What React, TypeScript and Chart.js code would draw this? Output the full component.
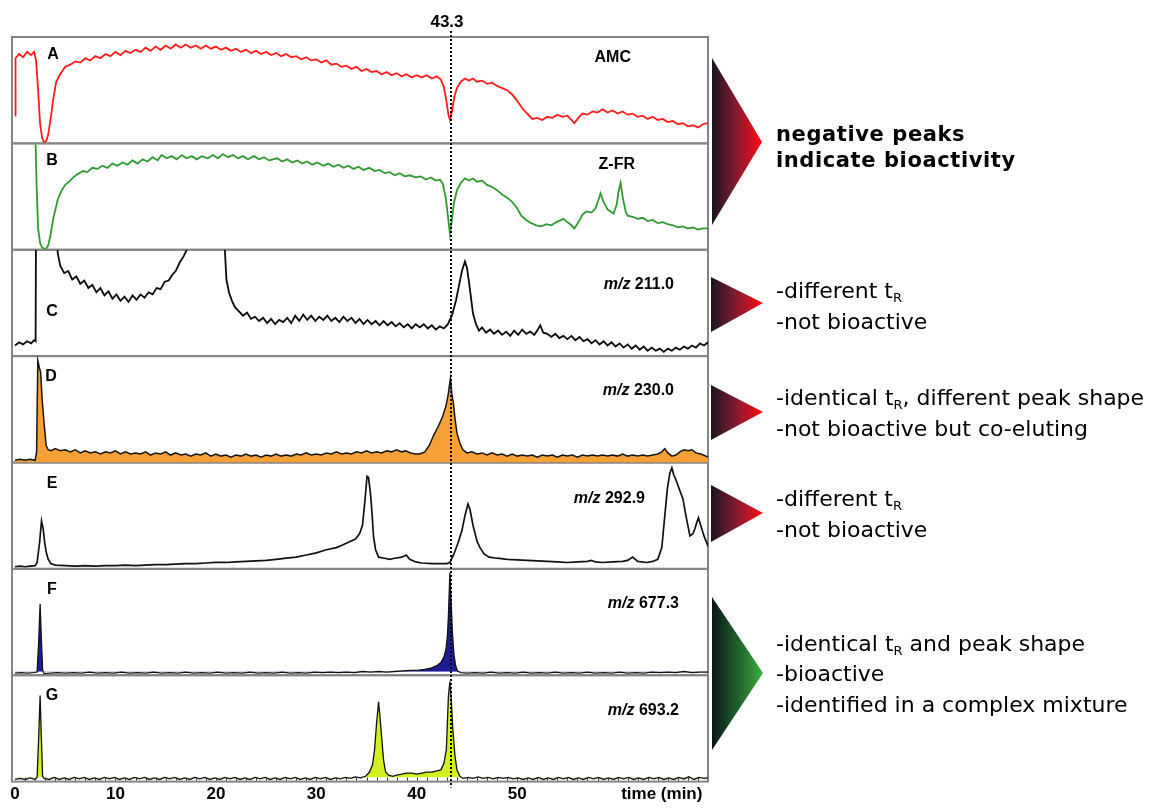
import React, { useEffect, useRef } from 'react';
import { Chart, registerables } from 'chart.js';

Chart.register(...registerables);

// ---------------- data ----------------
const timeTicks = [0, 10, 20, 30, 40, 50, 64.4];
const timeTickLabels = ['0', '10', '20', '30', '40', '50', 'time (min)'];
const markerTime = 43.3;
const markerText = '43.3';

const panelLetters = ['A', 'B', 'C', 'D', 'E', 'F', 'G'];
const traceNames = ['AMC', 'Z-FR', '211.0', '230.0', '292.9', '677.3', '693.2'];
const traceIsMz = [false, false, true, true, true, true, true];

// [time (min), relative signal (0-100 of panel)]
const amcTrace: [number, number][] = [
  [0, 26], [0.05, 80], [0.4, 84], [0.8, 81], [1.2, 86], [1.6, 83], [1.9, 86], [2.1, 78], [2.3, 50], [2.5, 18],
  [2.7, 5], [2.9, 1], [3.1, 2], [3.3, 8], [3.5, 20], [3.8, 41], [4.1, 58], [4.5, 65], [5.0, 72], [5.5, 74],
  [6.0, 77], [6.5, 76], [7.0, 80], [7.5, 78], [8.0, 82], [8.5, 80], [9.0, 84], [9.5, 82], [10.0, 86], [10.5, 83],
  [11.0, 87], [11.5, 85], [12.0, 88], [12.5, 86], [13.0, 90], [13.5, 87], [14.0, 91], [14.5, 88], [15.0, 92], [15.5, 89],
  [16.0, 93], [16.5, 90], [17.0, 93], [17.5, 90], [18.0, 92], [18.5, 89], [19.0, 92], [19.5, 89], [20.0, 91], [20.5, 88],
  [21.0, 90], [21.5, 87], [22.0, 89], [22.5, 86], [23.0, 88], [23.5, 85], [24.0, 87], [24.5, 84], [25.0, 86], [25.5, 83],
  [26.0, 85], [26.5, 82], [27.0, 84], [27.5, 81], [28.0, 82], [28.5, 79], [29.0, 81], [29.5, 78], [30.0, 79], [30.5, 76],
  [31.0, 78], [31.5, 74], [32.0, 75], [32.5, 72], [33.0, 73], [33.5, 70], [34.0, 72], [34.5, 68], [35.0, 70], [35.5, 67],
  [36.0, 68], [36.5, 65], [37.0, 67], [37.5, 64], [38.0, 66], [38.5, 63], [39.0, 65], [39.5, 62], [40.0, 64], [40.5, 62],
  [41.0, 64], [41.5, 61], [42.0, 63], [42.4, 60], [42.7, 53], [42.95, 40], [43.15, 27], [43.3, 22], [43.5, 30], [43.75, 44],
  [44.0, 52], [44.4, 58], [44.8, 61], [45.2, 59], [45.6, 61], [46.0, 58], [46.5, 59], [47.0, 56], [47.5, 57], [48.0, 54],
  [48.5, 52], [49.0, 50], [49.5, 46], [50.0, 40], [50.5, 33], [51.0, 28], [51.5, 23], [52.0, 24], [52.5, 22], [53.0, 25],
  [53.5, 24], [54.0, 27], [54.5, 25], [55.0, 26], [55.4, 22], [55.7, 19], [56.1, 24], [56.5, 28], [57.0, 27], [57.5, 30],
  [58.0, 29], [58.5, 32], [59.0, 29], [59.5, 31], [60.0, 28], [60.5, 30], [61.0, 27], [61.5, 28], [62.0, 25], [62.5, 26],
  [63.0, 23], [63.5, 25], [64.0, 22], [64.5, 23], [65.0, 20], [65.5, 21], [66.0, 18], [66.5, 19], [67.0, 16], [67.5, 17],
  [68.0, 15], [68.5, 18], [69.0, 19],
];

const zfrTrace: [number, number][] = [
  [2.05, 99], [2.15, 60], [2.3, 20], [2.5, 6], [2.7, 2], [2.9, 1], [3.1, 1], [3.3, 4], [3.5, 12], [3.8, 29],
  [4.25, 47], [4.6, 55], [5.0, 61], [5.4, 64], [5.8, 68], [6.2, 71], [6.8, 74], [7.2, 73], [7.7, 77], [8.2, 76],
  [8.7, 79], [9.2, 77], [9.7, 81], [10.2, 79], [10.7, 82], [11.2, 80], [11.7, 84], [12.2, 81], [12.7, 85], [13.2, 83],
  [13.7, 87], [14.2, 84], [14.6, 89], [15.1, 86], [15.6, 88], [16.1, 85], [16.6, 89], [17.1, 86], [17.6, 88], [18.1, 85],
  [18.6, 88], [19.2, 86], [19.7, 89], [20.2, 86], [20.7, 90], [21.2, 87], [21.7, 89], [22.2, 86], [22.7, 88], [23.2, 85],
  [23.8, 88], [24.3, 85], [24.8, 87], [25.3, 84], [26.1, 86], [26.6, 83], [27.1, 85], [27.6, 82], [28.1, 84], [28.6, 81],
  [29.1, 83], [29.6, 80], [30.1, 82], [30.7, 79], [31.2, 81], [31.7, 78], [32.2, 80], [32.7, 77], [33.2, 79], [33.7, 76],
  [34.2, 78], [34.7, 75], [35.3, 77], [35.8, 74], [36.3, 75], [36.8, 72], [37.3, 73], [37.8, 70], [38.3, 72], [38.8, 69],
  [39.3, 70], [39.9, 68], [40.4, 69], [40.9, 66], [41.4, 68], [41.9, 65], [42.3, 66], [42.6, 62], [42.9, 48], [43.1, 32],
  [43.3, 15], [43.5, 28], [43.7, 44], [44.0, 56], [44.4, 63], [44.8, 67], [45.2, 65], [45.6, 67], [46.0, 64], [46.5, 65],
  [47.0, 61], [47.5, 59], [48.0, 56], [48.5, 52], [49.0, 49], [49.5, 45], [50.0, 39], [50.4, 32], [50.9, 28], [51.4, 25],
  [51.9, 23], [52.4, 22], [52.9, 24], [53.4, 23], [53.9, 26], [54.6, 29], [55.0, 26], [55.4, 23], [55.7, 20], [56.1, 26],
  [56.5, 33], [56.9, 36], [57.4, 35], [57.8, 39], [58.1, 47], [58.3, 53], [58.6, 45], [59.0, 38], [59.3, 36], [59.6, 34],
  [59.9, 42], [60.1, 55], [60.3, 63], [60.5, 50], [60.8, 36], [61.0, 32], [61.5, 31], [62.0, 29], [62.5, 30], [63.0, 27],
  [63.5, 28], [64.0, 25], [64.5, 26], [65.0, 24], [65.5, 23], [66.0, 21], [66.5, 22], [67.0, 20], [67.5, 21], [68.0, 19],
  [68.5, 20], [69.0, 20],
];

const mz211Trace: [number, number][] = [
  [0, 10], [0.4, 13], [0.8, 11], [1.2, 14], [1.6, 12], [1.9, 15], [2.05, 14], [2.1, 150], [4.1, 150], [4.25, 97],
  [4.5, 85], [4.9, 78], [5.3, 80], [5.7, 72], [6.1, 75], [6.5, 68], [6.9, 71], [7.3, 64], [7.7, 67], [8.1, 60],
  [8.5, 64], [8.9, 57], [9.3, 61], [9.7, 54], [10.1, 58], [10.5, 52], [10.9, 56], [11.3, 51], [11.7, 57], [12.1, 53],
  [12.5, 58], [12.9, 55], [13.3, 60], [13.7, 58], [14.1, 64], [14.5, 63], [14.9, 70], [15.3, 71], [15.7, 77], [16.0, 80],
  [16.4, 88], [16.8, 94], [17.1, 100], [17.4, 150], [20.7, 150], [20.9, 99], [21.05, 72], [21.3, 60], [21.6, 52], [21.9, 46],
  [22.3, 42], [22.7, 38], [23.1, 41], [23.5, 35], [23.9, 37], [24.3, 33], [24.7, 36], [25.1, 31], [25.5, 35], [25.9, 30],
  [26.3, 34], [26.7, 32], [27.1, 36], [27.5, 31], [27.9, 38], [28.3, 33], [28.7, 39], [29.1, 34], [29.5, 38], [29.9, 33],
  [30.3, 37], [30.7, 34], [31.1, 38], [31.5, 33], [31.9, 36], [32.3, 32], [32.7, 37], [33.1, 33], [33.5, 36], [33.9, 31],
  [34.3, 35], [34.7, 30], [35.1, 34], [35.5, 30], [35.9, 33], [36.3, 29], [36.7, 33], [37.1, 29], [37.5, 32], [37.9, 28],
  [38.3, 31], [38.7, 27], [39.1, 30], [39.5, 26], [39.9, 30], [40.3, 27], [40.7, 30], [41.1, 26], [41.5, 29], [41.9, 25],
  [42.3, 28], [42.7, 26], [43.1, 30], [43.5, 38], [43.9, 52], [44.2, 66], [44.5, 80], [44.8, 89], [45.0, 83], [45.2, 70],
  [45.4, 55], [45.6, 40], [45.9, 30], [46.2, 24], [46.5, 27], [46.9, 22], [47.3, 25], [47.7, 21], [48.1, 24], [48.5, 20],
  [48.9, 23], [49.3, 19], [49.7, 24], [50.1, 20], [50.5, 25], [50.9, 21], [51.3, 23], [51.7, 20], [52.0, 24], [52.3, 29],
  [52.6, 22], [53.0, 21], [53.4, 18], [53.8, 21], [54.2, 17], [54.6, 19], [55.0, 16], [55.4, 19], [55.8, 15], [56.2, 18],
  [56.6, 14], [57.0, 16], [57.4, 12], [57.8, 15], [58.2, 11], [58.6, 14], [59.0, 10], [59.4, 13], [59.8, 9], [60.2, 12],
  [60.6, 8], [61.0, 11], [61.4, 7], [61.8, 10], [62.2, 6], [62.6, 9], [63.0, 5], [63.4, 8], [63.8, 5], [64.2, 7],
  [64.6, 4], [65.0, 7], [65.4, 5], [65.8, 8], [66.2, 6], [66.6, 9], [67.0, 7], [67.4, 10], [67.8, 8], [68.2, 12],
  [68.6, 10], [69.0, 13],
];

const mz230Trace: [number, number][] = [
  [0, 2], [0.5, 3], [1.0, 2], [1.5, 3], [2.0, 2], [2.15, 10], [2.27, 96], [2.4, 90], [2.55, 85], [2.7, 60],
  [2.87, 40], [3.1, 16], [3.3, 12], [3.6, 11], [4.0, 13], [4.5, 11], [5.0, 12], [5.5, 10], [6.0, 12], [6.5, 9],
  [7.0, 11], [7.5, 9], [8.0, 10], [8.5, 8], [9.0, 10], [9.5, 9], [10.0, 11], [10.5, 8], [11.0, 10], [11.5, 8],
  [12.0, 9], [12.5, 8], [13.0, 10], [13.5, 7], [14.0, 9], [14.5, 8], [15.0, 10], [15.5, 7], [16.0, 9], [16.5, 7],
  [17.0, 8], [17.5, 6], [18.0, 8], [18.5, 7], [19.0, 9], [19.5, 6], [20.0, 8], [20.5, 6], [21.0, 7], [21.5, 5],
  [22.0, 7], [22.5, 6], [23.0, 8], [23.5, 6], [24.0, 7], [24.5, 5], [25.0, 7], [25.5, 6], [26.0, 8], [26.5, 6],
  [27.0, 7], [27.5, 6], [28.0, 8], [28.5, 7], [29.0, 9], [29.5, 7], [30.0, 8], [30.5, 7], [31.0, 9], [31.5, 8],
  [32.0, 10], [32.5, 8], [33.0, 9], [33.5, 8], [34.0, 10], [34.5, 9], [35.0, 11], [35.5, 9], [36.0, 10], [36.5, 9],
  [37.0, 11], [37.5, 10], [38.0, 12], [38.5, 10], [38.9, 11], [39.4, 9], [39.9, 8], [40.3, 8], [40.8, 10], [41.25, 16],
  [41.7, 26], [42.2, 35], [42.6, 44], [42.9, 53], [43.1, 62], [43.35, 79], [43.5, 64], [43.65, 56], [43.8, 42], [44.0, 28],
  [44.3, 18], [44.6, 12], [45.0, 9], [45.5, 10], [46.0, 8], [46.5, 9], [47.0, 7], [47.5, 9], [48.0, 7], [48.5, 8],
  [49.0, 6], [49.5, 8], [50.0, 6], [50.5, 7], [51.0, 6], [51.5, 7], [52.0, 5], [52.5, 7], [53.0, 6], [53.5, 7],
  [54.0, 5], [54.5, 7], [55.0, 6], [55.5, 7], [56.0, 5], [56.5, 7], [57.0, 6], [57.5, 7], [58.0, 6], [58.5, 7],
  [59.0, 6], [59.5, 7], [60.0, 6], [60.5, 8], [61.0, 6], [61.5, 7], [62.0, 6], [62.5, 7], [63.0, 6], [63.5, 7],
  [64.0, 8], [64.4, 10], [64.7, 13], [65.0, 9], [65.4, 6], [65.8, 7], [66.2, 10], [66.6, 12], [67.0, 11], [67.4, 12],
  [67.8, 9], [68.3, 8], [68.8, 6], [69.0, 5],
];

const mz292Trace: [number, number][] = [
  [0, 2], [0.5, 2.5], [1.0, 2], [1.5, 2.5], [2.0, 3], [2.2, 6], [2.45, 25], [2.64, 45], [2.8, 38], [2.95, 25],
  [3.1, 16], [3.3, 9], [3.56, 5], [4.0, 3.5], [5.0, 3], [6.0, 2.5], [7.0, 3], [8.0, 2.5], [9.0, 3], [10.0, 3],
  [11.0, 3.5], [12.0, 3], [13.0, 3.5], [14.0, 4], [15.0, 4], [16.0, 4.5], [17.0, 5], [18.0, 5], [19.0, 5.5], [20.0, 6],
  [21.0, 6], [22.0, 6.5], [23.0, 7], [24.0, 7.5], [25.0, 8], [26.0, 9], [27.0, 10], [28.0, 11], [29.0, 13], [30.0, 15],
  [31.0, 18], [32.0, 20], [32.5, 22], [33.2, 25], [33.9, 28], [34.3, 33], [34.6, 41], [34.85, 65], [35.05, 87], [35.2, 86],
  [35.4, 70], [35.55, 52], [35.7, 30], [35.9, 18], [36.2, 11], [36.8, 10], [37.3, 9], [37.8, 10], [38.5, 11], [38.95, 13],
  [39.3, 9], [39.9, 6.5], [40.5, 5.5], [41.5, 5], [42.2, 5], [43.0, 5], [43.3, 6], [43.7, 14], [44.1, 24], [44.5, 36],
  [44.8, 50], [45.1, 61], [45.3, 56], [45.6, 41], [46.0, 26], [46.3, 20], [46.7, 14], [47.2, 11], [48.0, 10], [49.0, 9],
  [50.0, 8.5], [51.0, 8], [52.0, 7.5], [53.0, 7], [54.0, 6.5], [55.0, 6], [56.0, 6.5], [57.0, 7], [57.4, 8], [57.8, 6.5],
  [58.5, 6], [59.5, 6.5], [60.5, 7], [61.0, 8], [61.5, 11], [62.0, 7], [62.9, 6], [63.5, 7], [64.0, 9], [64.4, 20],
  [64.7, 50], [64.95, 75], [65.2, 90], [65.4, 95], [65.6, 88], [65.8, 84], [66.1, 76], [66.5, 66], [66.8, 50], [67.2, 31],
  [67.5, 33], [67.7, 38], [67.9, 44], [68.05, 48], [68.3, 40], [68.6, 31], [68.9, 24], [69.0, 21],
];

const mz677Trace: [number, number][] = [
  [0, 2], [0.6, 2.5], [1.2, 2], [1.8, 2.5], [2.2, 3], [2.35, 30], [2.5, 67], [2.62, 35], [2.75, 5], [2.9, 1.5],
  [3.5, 2], [4.2, 2.5], [5.0, 2], [5.8, 2.5], [6.6, 2], [7.4, 3], [8.2, 2], [9.0, 2.5], [9.8, 2], [10.6, 3],
  [11.4, 2], [12.2, 2.5], [13.0, 2], [13.8, 3], [14.6, 2], [15.4, 2.5], [16.2, 2], [17.0, 3], [17.8, 2], [18.6, 2.5],
  [19.4, 2], [20.2, 3], [21.0, 2], [21.8, 2.5], [22.6, 2], [23.4, 3], [24.2, 2], [25.0, 2.5], [25.8, 2], [26.6, 3],
  [27.4, 2], [28.2, 2.5], [29.0, 2], [29.8, 3], [30.6, 2.5], [31.4, 3], [32.2, 2.5], [33.0, 3], [33.8, 2.5], [34.6, 3.5],
  [35.4, 3], [36.2, 3.5], [37.0, 3], [37.8, 3.5], [38.6, 4], [39.4, 4.5], [40.0, 4.5], [40.8, 5.5], [41.5, 7], [42.0, 9],
  [42.4, 12], [42.7, 17], [42.9, 24], [43.05, 36], [43.15, 55], [43.3, 96], [43.42, 70], [43.55, 40], [43.7, 20], [43.85, 10],
  [44.05, 4], [44.4, 2.5], [45.0, 2], [45.8, 2.5], [46.6, 2], [47.4, 3], [48.2, 2], [49.0, 2.5], [49.8, 2], [50.6, 3],
  [51.4, 2], [52.2, 2.5], [53.0, 2], [53.8, 3], [54.6, 2], [55.4, 2.5], [56.2, 2], [57.0, 3], [57.8, 2], [58.6, 2.5],
  [59.4, 2], [60.2, 3], [61.0, 2], [61.8, 2.5], [62.6, 2], [63.4, 3], [64.2, 2.5], [65.0, 3], [65.8, 2.5], [66.6, 3.5],
  [67.4, 2.5], [68.2, 3], [69.0, 3],
];

const mz693Trace: [number, number][] = [
  [0, 2], [0.5, 3], [1.0, 2], [1.5, 3.5], [2.0, 2], [2.2, 4], [2.35, 40], [2.5, 81], [2.6, 48], [2.75, 5],
  [2.9, 3], [3.4, 2], [3.9, 4], [4.4, 2], [4.9, 3.5], [5.4, 2], [5.9, 4], [6.4, 2.5], [6.9, 4], [7.4, 2],
  [7.9, 3.5], [8.4, 2], [8.9, 4], [9.4, 2.5], [9.9, 4], [10.4, 2], [10.9, 3.5], [11.4, 2], [11.9, 4], [12.4, 2.5],
  [12.9, 4], [13.4, 2], [13.9, 3.5], [14.4, 2], [14.9, 4], [15.4, 2.5], [15.9, 4], [16.4, 2], [16.9, 3.5], [17.4, 2],
  [17.9, 4], [18.4, 2.5], [18.9, 4], [19.4, 2], [19.9, 3.5], [20.4, 2], [20.9, 4], [21.4, 2.5], [21.9, 4], [22.4, 2],
  [22.9, 3.5], [23.4, 2], [23.9, 4], [24.4, 2.5], [24.9, 4], [25.4, 2], [25.9, 3.5], [26.4, 2], [26.9, 4], [27.4, 2.5],
  [27.9, 4], [28.4, 2], [28.9, 3.5], [29.4, 2], [29.9, 4], [30.4, 2.5], [30.9, 4], [31.4, 2], [31.9, 3.5], [32.4, 2.5],
  [32.9, 4], [33.4, 3], [33.9, 4.5], [34.4, 3.5], [34.9, 5], [35.3, 9], [35.6, 16], [35.8, 30], [36.0, 55], [36.2, 75],
  [36.35, 60], [36.5, 42], [36.7, 20], [36.9, 9], [37.2, 6], [37.6, 5], [38.0, 6], [38.5, 7], [38.95, 8], [39.5, 8],
  [40.0, 7], [40.5, 8], [41.0, 9], [41.5, 9], [42.0, 10], [42.4, 11], [42.7, 17], [42.95, 30], [43.15, 80], [43.3, 94],
  [43.45, 75], [43.6, 48], [43.8, 25], [44.0, 11], [44.3, 5], [44.6, 3], [45.1, 4], [45.6, 3], [46.1, 4.5], [46.6, 3],
  [47.1, 4], [47.6, 2.5], [48.1, 4], [48.6, 3], [49.1, 4], [49.6, 2.5], [50.1, 3.5], [50.6, 2], [51.1, 3.5], [51.6, 2],
  [52.1, 4], [52.6, 2], [53.1, 3.5], [53.6, 2], [54.1, 4], [54.6, 2.5], [55.1, 4], [55.6, 2], [56.1, 3.5], [56.6, 2],
  [57.1, 4], [57.6, 2.5], [58.1, 4], [58.6, 2], [59.1, 3.5], [59.6, 2], [60.1, 4], [60.6, 2.5], [61.1, 4], [61.6, 2],
  [62.1, 3.5], [62.6, 2], [63.1, 4], [63.6, 2.5], [64.1, 4], [64.6, 2], [65.1, 3.5], [65.6, 2], [66.1, 4], [66.6, 2.5],
  [67.1, 4.5], [67.6, 2], [68.1, 4], [68.6, 3], [69.0, 3.5],
];

const traces = [amcTrace, zfrTrace, mz211Trace, mz230Trace, mz292Trace, mz677Trace, mz693Trace];

// ---------------- styling / layout ----------------
const W = 1151;
const H = 808;
const PLOT_LEFT = 12;
const PLOT_RIGHT = 708;
const PLOT_TOP = 37;
const CHART_FONT = '"Liberation Sans", Arial, sans-serif';
const NOTE_FONT = '"DejaVu Sans", Verdana, sans-serif';

const lineColors = ['#ff1c1c', '#2f9a2f', '#0a0a0a', '#151515', '#111111', '#111111', '#111111'];
const lineWidths = [1.8, 1.8, 1.8, 1.5, 1.7, 1.3, 1.3];
const fillStyles: any[] = [
  false,
  false,
  false,
  { target: 'start', above: '#f6a035', below: '#f6a035' },
  false,
  { target: { value: 3.2 }, above: '#1c1c96', below: 'rgba(0,0,0,0)' },
  { target: { value: 3.8 }, above: '#d3ef1f', below: 'rgba(0,0,0,0)' },
];
const letterCenterX = [53, 52, 52, 51, 52, 52, 52];
const letterOffsetY = [18, 17, 62, 20, 21, 21, 20];
const nameRightX = [631, 635, 674, 674, 645, 679, 679];
const nameOffsetY = [21, 21, 35, 34, 36, 35, 35];

const panelPlugin = {
  id: 'panelDecor',
  beforeDatasetsDraw(chart: any) {
    const { ctx, chartArea } = chart;
    ctx.save();
    ctx.strokeStyle = '#858585';
    ctx.lineWidth = 2;
    panelLetters.forEach((p) => {
      const s = chart.scales['y' + p];
      ctx.strokeRect(chartArea.left, s.top, chartArea.right - chartArea.left, s.bottom - s.top);
    });
    ctx.restore();
  },
  beforeDatasetDraw(chart: any, args: any) {
    const { ctx, chartArea } = chart;
    const s = args.meta.yScale;
    ctx.save();
    ctx.beginPath();
    ctx.rect(chartArea.left, s.top, chartArea.right - chartArea.left, s.bottom - s.top);
    ctx.clip();
  },
  afterDatasetDraw(chart: any) {
    chart.ctx.restore();
  },
  afterDatasetsDraw(chart: any) {
    const { ctx, chartArea } = chart;
    const xs = chart.scales.x;
    ctx.save();
    // small minute ticks on the bottom panel
    const yLast = chart.scales['y' + panelLetters[panelLetters.length - 1]];
    ctx.strokeStyle = '#333';
    ctx.lineWidth = 1;
    for (let m = 1; m < 69; m++) {
      const px = Math.round(xs.getPixelForValue(m)) + 0.5;
      ctx.beginPath();
      ctx.moveTo(px, yLast.bottom - 1);
      ctx.lineTo(px, yLast.bottom - 4);
      ctx.stroke();
    }
    // panel letters and trace names
    ctx.fillStyle = '#000';
    ctx.textBaseline = 'middle';
    panelLetters.forEach((p, i) => {
      const s = chart.scales['y' + p];
      ctx.font = 'bold 16px ' + CHART_FONT;
      ctx.textAlign = 'center';
      ctx.fillText(p, letterCenterX[i], s.top + letterOffsetY[i]);
      const y = s.top + nameOffsetY[i];
      ctx.textAlign = 'left';
      if (traceIsMz[i]) {
        const pre = 'm/z ';
        ctx.font = 'italic bold 16px ' + CHART_FONT;
        const w1 = ctx.measureText(pre).width;
        ctx.font = 'bold 16px ' + CHART_FONT;
        const w2 = ctx.measureText(traceNames[i]).width;
        const x0 = nameRightX[i] - w1 - w2;
        ctx.font = 'italic bold 16px ' + CHART_FONT;
        ctx.fillText(pre, x0, y);
        ctx.font = 'bold 16px ' + CHART_FONT;
        ctx.fillText(traceNames[i], x0 + w1, y);
      } else {
        ctx.font = 'bold 16px ' + CHART_FONT;
        const w = ctx.measureText(traceNames[i]).width;
        ctx.fillText(traceNames[i], nameRightX[i] - w, y);
      }
    });
    // retention-time marker
    const mx = Math.round(xs.getPixelForValue(markerTime)) + 1;
    ctx.strokeStyle = '#000';
    ctx.lineWidth = 2;
    ctx.setLineDash([2, 2]);
    ctx.beginPath();
    ctx.moveTo(mx, 31);
    ctx.lineTo(mx, chartArea.bottom + 6);
    ctx.stroke();
    ctx.setLineDash([]);
    ctx.font = 'bold 17px ' + CHART_FONT;
    ctx.textAlign = 'center';
    ctx.fillText(markerText, mx - 4, 22);
    ctx.restore();
  },
};

function NoteLine(props: { top: number; bold?: boolean; children: any }) {
  const fs = props.bold ? 21 : 22;
  return (
    <div
      style={{
        position: 'absolute',
        left: 776,
        top: props.top,
        fontFamily: NOTE_FONT,
        fontSize: fs,
        lineHeight: fs + 'px',
        fontWeight: props.bold ? 'bold' : 'normal',
        letterSpacing: props.bold ? '0.6px' : '0px',
        whiteSpace: 'nowrap',
        color: '#000',
      }}
    >
      {props.children}
    </div>
  );
}

function Sub(props: { children: any }) {
  return (
    <span style={{ fontSize: 13, verticalAlign: '-4px', lineHeight: 0 }}>{props.children}</span>
  );
}

const triangles = [
  { pts: '712,58 712,225 762,142', grad: 'gRed' },
  { pts: '711,277 711,332 763,303', grad: 'gRed' },
  { pts: '711,385 711,440 763,412', grad: 'gRed' },
  { pts: '711,485 711,542 763,513', grad: 'gRed' },
  { pts: '712,597 712,750 763,673', grad: 'gGreen' },
];

export default function App() {
  const canvasRef = useRef<HTMLCanvasElement | null>(null);

  useEffect(() => {
    const canvas = canvasRef.current;
    if (!canvas) return;

    const scales: any = {
      x: {
        type: 'linear',
        min: -0.3,
        max: 69.0,
        grid: { display: false, drawTicks: false },
        border: { display: false },
        afterBuildTicks: (axis: any) => {
          axis.ticks = timeTicks.map((v) => ({ value: v }));
        },
        ticks: {
          autoSkip: false,
          maxRotation: 0,
          padding: 3,
          color: '#000',
          font: { family: CHART_FONT, size: 17, weight: 'bold' },
          callback: (_v: any, i: number) => timeTickLabels[i],
        },
      },
    };
    panelLetters.forEach((p, i) => {
      scales['y' + p] = {
        type: 'linear',
        display: false,
        position: 'left',
        stack: 'panels',
        stackWeight: 1,
        weight: panelLetters.length - i,
        min: 0,
        max: 100,
      };
    });

    const datasets = traces.map((tr, i) => ({
      label: panelLetters[i],
      data: tr.map(([t, v]) => ({ x: t, y: v })),
      xAxisID: 'x',
      yAxisID: 'y' + panelLetters[i],
      borderColor: lineColors[i],
      borderWidth: lineWidths[i],
      backgroundColor: fillStyles[i] ? fillStyles[i].above : 'rgba(0,0,0,0)',
      fill: fillStyles[i],
      pointRadius: 0,
      tension: 0,
    }));

    const chart = new Chart(canvas, {
      type: 'line',
      data: { datasets } as any,
      options: {
        responsive: false,
        animation: false,
        events: [],
        layout: { padding: { left: PLOT_LEFT, right: W - PLOT_RIGHT, top: PLOT_TOP, bottom: 0 } },
        plugins: {
          legend: { display: false },
          tooltip: { enabled: false },
        },
        scales,
      } as any,
      plugins: [panelPlugin as any],
    });
    return () => chart.destroy();
  }, []);

  return (
    <div style={{ position: 'absolute', left: 0, top: 0, width: W, height: H, background: '#fff', overflow: 'hidden' }}>
      <canvas ref={canvasRef} width={W} height={H} style={{ position: 'absolute', left: 0, top: 0 }} />
      <svg width={W} height={H} style={{ position: 'absolute', left: 0, top: 0, pointerEvents: 'none' }}>
        <defs>
          <linearGradient id="gRed" x1="0" y1="0" x2="1" y2="0">
            <stop offset="0" stopColor="#1a1420" />
            <stop offset="0.45" stopColor="#7c1a30" />
            <stop offset="1" stopColor="#ff0d12" />
          </linearGradient>
          <linearGradient id="gGreen" x1="0" y1="0" x2="1" y2="0">
            <stop offset="0" stopColor="#0b1519" />
            <stop offset="0.5" stopColor="#1f5f2c" />
            <stop offset="1" stopColor="#3daf3d" />
          </linearGradient>
        </defs>
        {triangles.map((t, i) => (
          <polygon key={i} points={t.pts} fill={`url(#${t.grad})`} />
        ))}
      </svg>
      <NoteLine top={124} bold>negative peaks</NoteLine>
      <NoteLine top={150} bold>indicate bioactivity</NoteLine>
      <NoteLine top={280}>-different t<Sub>R</Sub></NoteLine>
      <NoteLine top={311}>-not bioactive</NoteLine>
      <NoteLine top={387}>-identical t<Sub>R</Sub>, different peak shape</NoteLine>
      <NoteLine top={418}>-not bioactive but co-eluting</NoteLine>
      <NoteLine top={488}>-different t<Sub>R</Sub></NoteLine>
      <NoteLine top={519}>-not bioactive</NoteLine>
      <NoteLine top={633}>-identical t<Sub>R</Sub> and peak shape</NoteLine>
      <NoteLine top={663}>-bioactive</NoteLine>
      <NoteLine top={694}>-identified in a complex mixture</NoteLine>
    </div>
  );
}
